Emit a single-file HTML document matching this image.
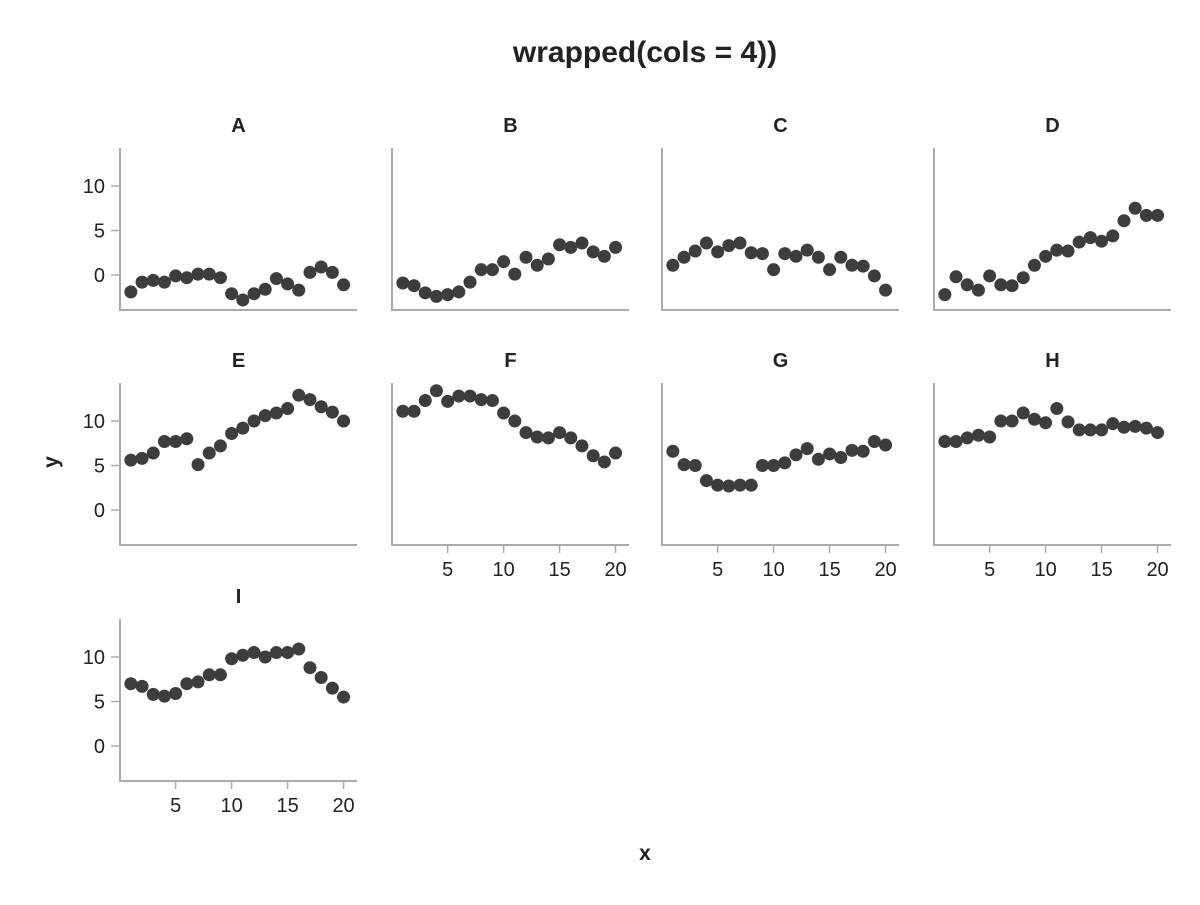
<!DOCTYPE html>
<html><head><meta charset="utf-8"><style>
body{margin:0;background:#fff}
svg text{font-family:"Liberation Sans",sans-serif;fill:#222}
</style></head><body>
<svg id="chart" width="1200" height="900" xmlns="http://www.w3.org/2000/svg">
<text x="645" y="62" text-anchor="middle" font-size="30" font-weight="bold">wrapped(cols = 4))</text>
<text transform="translate(58,462) rotate(-90)" text-anchor="middle" font-size="21" font-weight="bold">y</text>
<text x="645" y="860" text-anchor="middle" font-size="21" font-weight="bold">x</text>
<g id="panels"></g>
</svg>
<script>
const panelNames = ["A","B","C","D","E","F","G","H","I"];
const xValues = [1,2,3,4,5,6,7,8,9,10,11,12,13,14,15,16,17,18,19,20];
const seriesA = [-1.9,-0.8,-0.6,-0.8,-0.1,-0.3,0.1,0.1,-0.3,-2.1,-2.8,-2.1,-1.6,-0.4,-1.0,-1.7,0.3,0.9,0.3,-1.1];
const seriesB = [-0.9,-1.2,-2.0,-2.4,-2.2,-1.9,-0.8,0.6,0.6,1.5,0.1,2.0,1.1,1.8,3.4,3.1,3.6,2.6,2.1,3.1];
const seriesC = [1.1,2.0,2.7,3.6,2.6,3.3,3.6,2.5,2.4,0.6,2.4,2.1,2.8,2.0,0.6,2.0,1.1,1.0,-0.1,-1.7];
const seriesD = [-2.2,-0.2,-1.1,-1.7,-0.1,-1.1,-1.2,-0.3,1.1,2.1,2.8,2.7,3.7,4.2,3.8,4.4,6.1,7.5,6.7,6.7];
const seriesE = [5.6,5.8,6.4,7.7,7.7,8.0,5.1,6.4,7.2,8.6,9.2,10,10.6,10.9,11.4,12.9,12.4,11.6,11,10];
const seriesF = [11.1,11.1,12.3,13.4,12.2,12.8,12.8,12.4,12.3,10.9,10,8.7,8.2,8.1,8.7,8.1,7.2,6.1,5.4,6.4];
const seriesG = [6.6,5.1,5,3.3,2.8,2.7,2.8,2.8,5,5,5.3,6.2,6.9,5.7,6.3,5.9,6.7,6.6,7.7,7.3];
const seriesH = [7.7,7.7,8.1,8.4,8.2,10,10,10.9,10.2,9.8,11.4,9.9,9,9,9,9.7,9.3,9.4,9.2,8.7];
const seriesI = [7,6.7,5.8,5.6,5.9,7,7.2,8,8,9.8,10.2,10.5,10,10.5,10.5,10.9,8.8,7.7,6.5,5.5];
const allSeries = [seriesA,seriesB,seriesC,seriesD,seriesE,seriesF,seriesG,seriesH,seriesI];
const yTicks = [0,5,10];
const xTicks = [5,10,15,20];
const xLabelPanels = ["F","G","H","I"];
const yLabelPanels = ["A","E","I"];

const NS="http://www.w3.org/2000/svg";
const root=document.getElementById('panels');
const colLeft=[120,392,662,934], rowTop=[148,383,619], W=237, H=162;
const xMin=0.03, xMax=21.2, yMin=-3.93, yMax=14.27;
function mk(tag,attrs,parent){const e=document.createElementNS(NS,tag);for(const k in attrs)e.setAttribute(k,attrs[k]);parent.appendChild(e);return e;}
panelNames.forEach((name,i)=>{
  const L=colLeft[i%4], T=rowTop[Math.floor(i/4)];
  const sx=v=>L+(v-xMin)/(xMax-xMin)*W;
  const sy=v=>T+H-(v-yMin)/(yMax-yMin)*H;
  const g=mk('g',{},root);
  
  
  const t=mk('text',{x:L+W/2,y:T-16,'text-anchor':'middle','font-size':20,'font-weight':'bold'},g);
  t.textContent=name;
  
  
  const ya=mk('line',{x1:L,y1:T,x2:L,y2:T+H,stroke:'#aaa','stroke-width':2},g);
  
  
  const xa=mk('line',{x1:L-1,y1:T+H,x2:L+W,y2:T+H,stroke:'#aaa','stroke-width':2},g);
  
  
  if(yLabelPanels.includes(name)){
    yTicks.forEach(v=>{
      const tk=mk('line',{x1:L-9,y1:sy(v),x2:L,y2:sy(v),stroke:'#aaa','stroke-width':1.5},g);
      
      
      const tl=mk('text',{x:L-15,y:sy(v)+7,'text-anchor':'end','font-size':20,fill:'#333'},g);
      tl.textContent=v;
      
      
    });
  }
  if(xLabelPanels.includes(name)){
    xTicks.forEach(v=>{
      const tk=mk('line',{x1:sx(v),y1:T+H,x2:sx(v),y2:T+H+8,stroke:'#aaa','stroke-width':1.5},g);
      
      
      const tl=mk('text',{x:sx(v),y:T+H+31,'text-anchor':'middle','font-size':20,fill:'#333'},g);
      tl.textContent=v;
      
      
    });
  }
  allSeries[i].forEach((v,j)=>{
    const c=mk('circle',{cx:sx(xValues[j]),cy:sy(v),r:6.5,fill:'#3d3d3d'},g);
    
    
  });
});
</script>
</body></html>
